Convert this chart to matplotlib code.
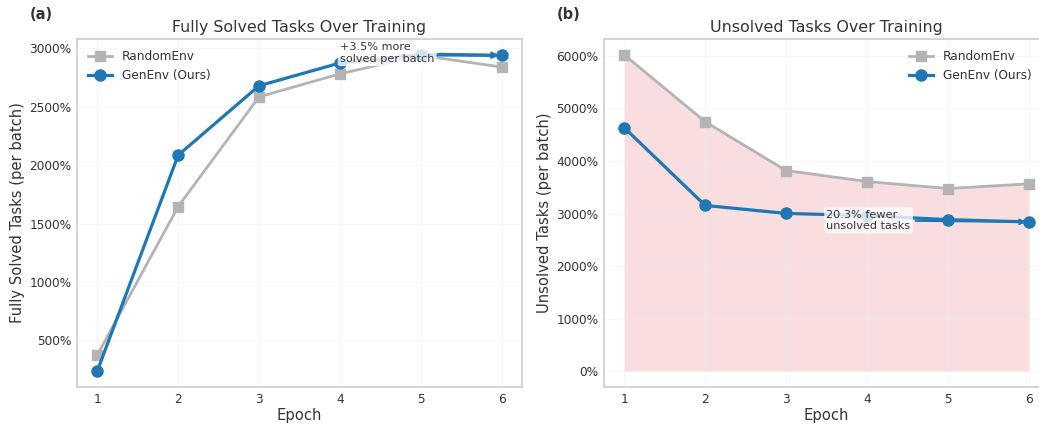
import matplotlib.pyplot as plt
from matplotlib.ticker import PercentFormatter

epochs = [1, 2, 3, 4, 5, 6]

# fully solved tasks per batch (%)
solved_random = [372, 1645, 2585, 2782, 2940, 2840]
solved_genenv = [235, 2085, 2680, 2875, 2945, 2940]

# unsolved tasks per batch (%)
unsolved_random = [6020, 4748, 3818, 3609, 3476, 3565]
unsolved_genenv = [4634, 3154, 3002, 2960, 2884, 2840]

blue = '#1f77b4'
gray = '#b4b4b4'
text_c = '#333333'

plt.rcParams['font.family'] = 'DejaVu Sans'
plt.rcParams['text.color'] = text_c
plt.rcParams['axes.labelcolor'] = text_c
plt.rcParams['xtick.color'] = text_c
plt.rcParams['ytick.color'] = text_c

fig = plt.figure(figsize=(10.39, 4.25), dpi=100)
ax1 = fig.add_axes([77 / 1039, 38 / 425, 445 / 1039, 348 / 425])
ax2 = fig.add_axes([604 / 1039, 38 / 425, 445 / 1039, 348 / 425])


def style(ax):
    ax.grid(True, color='#eeeeee', lw=0.6, alpha=0.5)
    for s in ax.spines.values():
        s.set_color('#cccccc')
        s.set_linewidth(1.2)
    ax.tick_params(labelsize=8.7, length=0, pad=4)
    ax.set_xticks(epochs)
    ax.yaxis.set_major_formatter(PercentFormatter(xmax=100, decimals=0))
    ax.set_xlabel('Epoch', fontsize=10.6, labelpad=2)


# (a)
ax1.plot(epochs, solved_random, color=gray, lw=2, marker='s', ms=7, label='RandomEnv')
ax1.plot(epochs, solved_genenv, color=blue, lw=2.3, marker='o', ms=8, label='GenEnv (Ours)')
style(ax1)
ax1.set_yticks([500, 1000, 1500, 2000, 2500, 3000])
ax1.set_ylabel('Fully Solved Tasks (per batch)', fontsize=10.6, labelpad=3)
ax1.set_title('Fully Solved Tasks Over Training', fontsize=11.4, pad=5)
ax1.legend(loc='upper left', fontsize=8.7, frameon=False)
imp_a = (solved_genenv[-1] - solved_random[-1]) / solved_random[-1] * 100
ax1.annotate(f'+{imp_a:.1f}% more\nsolved per batch', xy=(6, solved_genenv[-1]),
             xytext=(4, solved_genenv[-1] + 20), va='center', fontsize=8.1,
             arrowprops=dict(arrowstyle='->', color=blue, lw=2),
             bbox=dict(boxstyle='round,pad=0.2', fc='white', ec='none', alpha=0.8))
ax1.text(-0.08, 1.07, '(a)', transform=ax1.transAxes, fontsize=10.5,
         fontweight='bold', ha='center', va='center')

# (b)
ax2.fill_between(epochs, 0, unsolved_random, color='#d62728', alpha=0.15, lw=0)
ax2.plot(epochs, unsolved_random, color=gray, lw=2, marker='s', ms=7, label='RandomEnv')
ax2.plot(epochs, unsolved_genenv, color=blue, lw=2.3, marker='o', ms=8, label='GenEnv (Ours)')
style(ax2)
ax2.set_ylabel('Unsolved Tasks (per batch)', fontsize=10.6, labelpad=3)
ax2.set_title('Unsolved Tasks Over Training', fontsize=11.4, pad=5)
ax2.legend(loc='upper right', bbox_to_anchor=(0.985, 1.0), fontsize=8.7, frameon=False)
red_b = (unsolved_random[-1] - unsolved_genenv[-1]) / unsolved_random[-1] * 100
ax2.annotate(f'{red_b:.1f}% fewer\nunsolved tasks', xy=(6, unsolved_genenv[-1]),
             xytext=(3.5, unsolved_genenv[-1] + 30), va='center', fontsize=8.1,
             arrowprops=dict(arrowstyle='->', color=blue, lw=1.5),
             bbox=dict(boxstyle='round,pad=0.2', fc='white', ec='none', alpha=0.8))
ax2.text(-0.08, 1.07, '(b)', transform=ax2.transAxes, fontsize=10.5,
         fontweight='bold', ha='center', va='center')

fig.savefig('out.png', dpi=100)
